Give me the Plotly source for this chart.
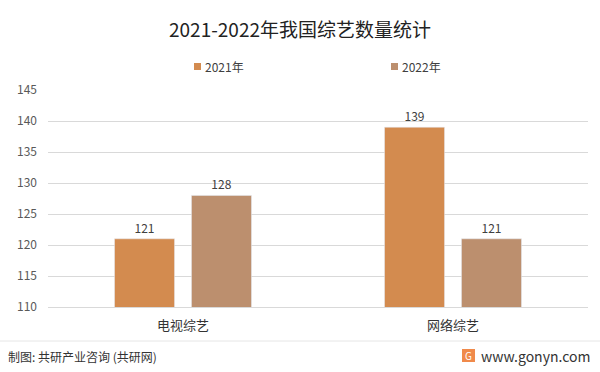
import plotly.graph_objects as go

categories = ["电视综艺", "网络综艺"]
series_names = ["2021年", "2022年"]
values_2021 = [121, 139]
values_2022 = [128, 121]
colors = ["#D38B4F", "#BC8F6E"]
font_family = "Noto Sans CJK SC, Noto Sans, sans-serif"

fig = go.Figure()
for name, vals, col in zip(series_names, [values_2021, values_2022], colors):
    fig.add_trace(go.Bar(
        x=categories, y=vals, name=name, marker_color=col,
        text=[str(v) for v in vals], textposition="outside",
        textfont=dict(size=12, color="#404040", family=font_family),
        cliponaxis=False, showlegend=False,
    ))

PW, PH = 540, 217  # plot area size in px (l=48, t=90)

def px_x(x):
    return (x - 48) / PW

def px_y(y):
    return (307 - y) / PH

fig.update_layout(
    width=600, height=372,
    margin=dict(l=48, r=12, t=90, b=65, autoexpand=False),
    paper_bgcolor="white", plot_bgcolor="white",
    font=dict(family=font_family, color="#595959"),
    title=dict(text="2021-2022年我国综艺数量统计", x=0.5, xanchor="center",
               y=1 - 30 / 372, yanchor="middle",
               font=dict(size=19, color="#222222", family=font_family)),
    barmode="group", bargap=0.43, bargroupgap=0.22,
    showlegend=False,
)
fig.update_yaxes(range=[110, 145], dtick=5, showgrid=True, gridcolor="#D9D9D9",
                 gridwidth=1, zeroline=False, showline=False,
                 tickfont=dict(size=12, color="#595959"), ticks="", ticklabelstandoff=10)
fig.update_xaxes(showline=True, linecolor="#D9D9D9", ticks="",
                 tickfont=dict(size=13, color="#333333"), ticklabelstandoff=6)

# manual legend
legend_x = [194, 391]
for name, col, lx in zip(series_names, colors, legend_x):
    fig.add_shape(type="rect", xref="paper", yref="paper",
                  x0=px_x(lx), x1=px_x(lx + 7), y0=px_y(70), y1=px_y(63),
                  fillcolor=col, line=dict(width=0))
    fig.add_annotation(text=name, xref="paper", yref="paper",
                       x=px_x(lx + 9), y=px_y(67), xanchor="left", yanchor="middle",
                       showarrow=False, font=dict(size=12, color="#404040"))

# footer
fig.add_shape(type="line", xref="paper", yref="paper", x0=px_x(0), x1=px_x(600),
              y0=px_y(341), y1=px_y(341), line=dict(color="#E6E6E6", width=1))
fig.add_annotation(text="制图: 共研产业咨询 (共研网)", xref="paper", yref="paper",
                   x=px_x(6), y=px_y(356), xanchor="left", yanchor="middle", showarrow=False,
                   font=dict(size=12, color="#333333"))
fig.add_annotation(text="www.gonyn.com", xref="paper", yref="paper",
                   x=px_x(592), y=px_y(356), xanchor="right", yanchor="middle", showarrow=False,
                   font=dict(size=14, color="#333333"))
fig.add_shape(type="rect", xref="paper", yref="paper",
              x0=px_x(462), x1=px_x(475), y0=px_y(362), y1=px_y(349),
              fillcolor="#F08A4B", line=dict(width=0))
fig.add_annotation(text="G", xref="paper", yref="paper",
                   x=px_x(468.5), y=px_y(355.5), xanchor="center", yanchor="middle",
                   showarrow=False, font=dict(size=10, color="white"))

fig.write_html("out.html", config={"displayModeBar": False},
               post_script="document.body.style.margin='0';")
